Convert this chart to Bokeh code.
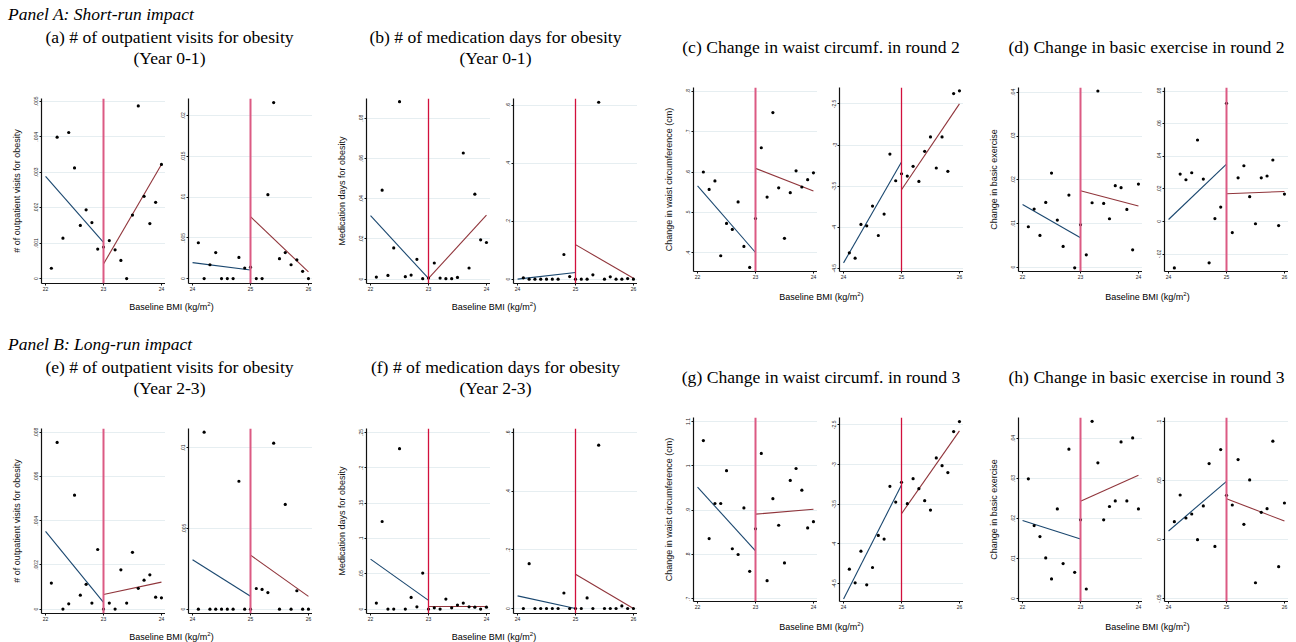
from bokeh.plotting import figure
from bokeh.layouts import row, column
from bokeh.models import Div, Spacer, Span, FixedTicker, Range1d
from bokeh.embed import file_html
from bokeh.resources import INLINE

# ---------------- data ----------------
X_LEFT = [22.1, 22.2, 22.3, 22.4, 22.5, 22.6, 22.7, 22.8, 22.9, 23.0,
          23.1, 23.2, 23.3, 23.4, 23.5, 23.6, 23.7, 23.8, 23.9, 24.0]
X_RIGHT = [24.1, 24.2, 24.3, 24.4, 24.5, 24.6, 24.7, 24.8, 24.9, 25.0,
           25.1, 25.2, 25.3, 25.4, 25.5, 25.6, 25.7, 25.8, 25.9, 26.0]
CUT_LEFT = 23
CUT_RIGHT = 25
FIT_X_LEFT_BELOW = [22, 23]
FIT_X_LEFT_ABOVE = [23, 24]
FIT_X_RIGHT_BELOW = [24, 25]
FIT_X_RIGHT_ABOVE = [25, 26]
X_TICKS_LEFT = [22, 23, 24]
X_TICKS_RIGHT = [24, 25, 26]
X_TICK_LABELS_LEFT = ["22", "23", "24"]
X_TICK_LABELS_RIGHT = ["24", "25", "26"]

# (a) outpatient visits, year 0-1
A_L_Y = [0.00029, 0.00399, 0.00114, 0.00412, 0.00312, 0.00150, 0.00194, 0.00158, 0.00083, 0.00089,
         0.00107, 0.00081, 0.00051, 0.0, 0.00179, 0.00487, 0.00232, 0.00155, 0.00215, 0.00322]
A_R_Y = [0.0044, 0.0, 0.0017, 0.0032, 0.0, 0.0, 0.0, 0.0026, 0.0013, 0.0014,
         0.0, 0.0, 0.0103, 0.0216, 0.00245, 0.0032, 0.0017, 0.0023, 0.0009, 0.0]
A_L_FIT_BELOW = [0.00288, 0.00102]
A_L_FIT_ABOVE = [0.00041, 0.00322]
A_R_FIT_BELOW = [0.00196, 0.00106]
A_R_FIT_ABOVE = [0.0076, 0.00082]
A_L_TICKS = [0, 0.001, 0.002, 0.003, 0.004, 0.005]
A_L_TICK_LABELS = ["0", ".001", ".002", ".003", ".004", ".005"]
A_R_TICKS = [0, 0.005, 0.01, 0.015, 0.02]
A_R_TICK_LABELS = ["0", ".005", ".01", ".015", ".02"]

# (b) medication days, year 0-1
B_L_Y = [0.0010, 0.0442, 0.0018, 0.0155, 0.0882, 0.0012, 0.0020, 0.0098, 0.0002, 0.0005,
         0.0080, 0.0005, 0.0002, 0.0002, 0.0008, 0.0627, 0.0055, 0.0422, 0.0195, 0.0182]
B_R_Y = [0.0046, 0.0, 0.0, 0.0, 0.0, 0.0, 0.0, 0.085, 0.009, 0.0,
         0.0, 0.0, 0.015, 0.61, 0.0, 0.008, 0.0, 0.0, 0.002, 0.0]
B_L_FIT_BELOW = [0.0315, 0.0003]
B_L_FIT_ABOVE = [0.0003, 0.0318]
B_R_FIT_BELOW = [0.0, 0.023]
B_R_FIT_ABOVE = [0.119, 0.003]
B_L_TICKS = [0, 0.02, 0.04, 0.06, 0.08]
B_L_TICK_LABELS = ["0", ".02", ".04", ".06", ".08"]
B_R_TICKS = [0, 0.2, 0.4, 0.6]
B_R_TICK_LABELS = ["0", ".2", ".4", ".6"]

# (c) waist circumference, round 2
C_L_Y = [0.600, 0.557, 0.578, 0.393, 0.473, 0.458, 0.526, 0.416, 0.364, 0.485,
         0.660, 0.538, 0.747, 0.561, 0.436, 0.549, 0.603, 0.563, 0.581, 0.598]
C_R_Y = [-4.313, -4.378, -3.967, -3.984, -3.744, -4.102, -3.841, -3.110, -3.435, -3.350,
         -3.378, -3.260, -3.443, -3.077, -2.902, -3.280, -2.902, -3.321, -2.374, -2.341]
C_L_FIT_BELOW = [0.566, 0.401]
C_L_FIT_ABOVE = [0.609, 0.553]
C_R_FIT_BELOW = [-4.435, -3.207]
C_R_FIT_ABOVE = [-3.545, -2.50]
C_L_TICKS = [0.4, 0.5, 0.6, 0.7, 0.8]
C_L_TICK_LABELS = [".4", ".5", ".6", ".7", ".8"]
C_R_TICKS = [-4.5, -4, -3.5, -3, -2.5]
C_R_TICK_LABELS = ["-4.5", "-4", "-3.5", "-3", "-2.5"]

# (d) basic exercise, round 2
D_L_Y = [0.00924, 0.01328, 0.00725, 0.01481, 0.02153, 0.01076, 0.00473, 0.01649, -0.00015, 0.0097,
         0.00282, 0.01473, 0.0403, 0.01458, 0.01107, 0.01863, 0.01817, 0.01321, 0.00397, 0.01901]
D_R_Y = [-0.0285, 0.0291, 0.0256, 0.0299, 0.0500, 0.0260, -0.0254, 0.0018, 0.0088, 0.0725,
         -0.0068, 0.0268, 0.0342, 0.0152, -0.0014, 0.0268, 0.0279, 0.0377, -0.0025, 0.0168]
D_L_FIT_BELOW = [0.01435, 0.00672]
D_L_FIT_ABOVE = [0.01748, 0.01397]
D_R_FIT_BELOW = [0.0012, 0.0352]
D_R_FIT_ABOVE = [0.0170, 0.0184]
D_L_TICKS = [0, 0.01, 0.02, 0.03, 0.04]
D_L_TICK_LABELS = ["0", ".01", ".02", ".03", ".04"]
D_R_TICKS = [-0.02, 0, 0.02, 0.04, 0.06, 0.08]
D_R_TICK_LABELS = ["-.02", "0", ".02", ".04", ".06", ".08"]

# (e) outpatient visits, year 2-3
E_L_Y = [0.00118, 0.00755, 0.0, 0.00024, 0.00516, 0.00063, 0.00112, 0.00027, 0.0027, 0.0,
         0.00027, 0.0, 0.00178, 0.00027, 0.00257, 0.00094, 0.00131, 0.00155, 0.00054, 0.00051]
E_R_Y = [0.0, 0.01097, 0.0, 0.0, 0.0, 0.0, 0.0, 0.00793, 0.0, 0.0,
         0.00128, 0.00122, 0.00103, 0.01029, 0.0, 0.00649, 0.0, 0.00114, 0.0, 0.0]
E_L_FIT_BELOW = [0.00352, 0.0003]
E_L_FIT_ABOVE = [0.00066, 0.00122]
E_R_FIT_BELOW = [0.00306, 0.0008]
E_R_FIT_ABOVE = [0.00335, 0.00079]
E_L_TICKS = [0, 0.002, 0.004, 0.006, 0.008]
E_L_TICK_LABELS = ["0", ".002", ".004", ".006", ".008"]
E_R_TICKS = [0, 0.005, 0.01]
E_R_TICK_LABELS = ["0", ".005", ".01"]

# (f) medication days, year 2-3
F_L_Y = [0.0085, 0.124, 0.0, 0.0, 0.227, 0.0, 0.0165, 0.0033, 0.051, 0.0,
         0.0019, 0.0, 0.0142, 0.0019, 0.0057, 0.0085, 0.0033, 0.0028, 0.0, 0.0028]
F_R_Y = [0.0, 0.153, 0.0, 0.0, 0.0, 0.0, 0.0, 0.053, 0.0, 0.0,
         0.0, 0.036, 0.0, 0.557, 0.0, 0.0, 0.0, 0.009, 0.0, 0.0]
F_L_FIT_BELOW = [0.0708, 0.0123]
F_L_FIT_ABOVE = [0.0038, 0.0038]
F_R_FIT_BELOW = [0.043, 0.0]
F_R_FIT_ABOVE = [0.117, 0.0]
F_L_TICKS = [0, 0.05, 0.1, 0.15, 0.2, 0.25]
F_L_TICK_LABELS = ["0", ".05", ".1", ".15", ".2", ".25"]
F_R_TICKS = [0, 0.2, 0.4, 0.6]
F_R_TICK_LABELS = ["0", ".2", ".4", ".6"]

# (g) waist circumference, round 3
G_L_Y = [1.057, 0.836, 0.915, 0.915, 0.989, 0.813, 0.800, 0.905, 0.762, 0.858,
         1.028, 0.741, 0.926, 0.866, 0.781, 0.967, 0.994, 0.945, 0.860, 0.874]
G_R_Y = [-4.319, -4.492, -4.092, -4.517, -4.298, -3.894, -3.940, -3.275, -3.473, -3.224,
         -3.494, -3.178, -3.304, -3.456, -3.574, -2.917, -3.014, -3.102, -2.584, -2.458]
G_L_FIT_BELOW = [0.952, 0.808]
G_L_FIT_ABOVE = [0.891, 0.902]
G_R_FIT_BELOW = [-4.694, -3.258]
G_R_FIT_ABOVE = [-3.62, -2.576]
G_L_TICKS = [0.7, 0.8, 0.9, 1.0, 1.1]
G_L_TICK_LABELS = [".7", ".8", ".9", "1", "1.1"]
G_R_TICKS = [-4.5, -4, -3.5, -3, -2.5]
G_R_TICK_LABELS = ["-4.5", "-4", "-3.5", "-3", "-2.5"]

# (h) basic exercise, round 3
H_L_Y = [0.0299, 0.01825, 0.0155, 0.01017, 0.00492, 0.0224, 0.00875, 0.0373, 0.00658, 0.01967,
         0.00242, 0.04425, 0.0339, 0.01967, 0.0230, 0.0244, 0.0391, 0.0244, 0.0401, 0.0224]
H_R_Y = [0.0153, 0.0379, 0.0184, 0.0218, 0.0, 0.0286, 0.0645, -0.0057, 0.0764, 0.0376,
         0.0294, 0.0679, 0.0130, 0.0507, -0.0365, 0.0232, 0.0263, 0.0835, -0.0229, 0.0311]
H_L_FIT_BELOW = [0.0195, 0.0149]
H_L_FIT_ABOVE = [0.0243, 0.0308]
H_R_FIT_BELOW = [0.0074, 0.0495]
H_R_FIT_ABOVE = [0.0348, 0.0158]
H_L_TICKS = [0, 0.01, 0.02, 0.03, 0.04]
H_L_TICK_LABELS = ["0", ".01", ".02", ".03", ".04"]
H_R_TICKS = [-0.05, 0, 0.05, 0.1]
H_R_TICK_LABELS = ["-.05", "0", ".05", ".1"]

TITLES = {
    "a": "(a) # of outpatient visits for obesity<br>(Year 0-1)",
    "b": "(b) # of medication days for obesity<br>(Year 0-1)",
    "c": "(c) Change in waist circumf. in round 2",
    "d": "(d) Change in basic exercise in round 2",
    "e": "(e) # of outpatient visits for obesity<br>(Year 2-3)",
    "f": "(f) # of medication days for obesity<br>(Year 2-3)",
    "g": "(g) Change in waist circumf. in round 3",
    "h": "(h) Change in basic exercise in round 3",
}
YLABELS = {
    "a": "# of outpatient visits for obesity",
    "b": "Medication days for obesity",
    "c": "Change in waist circumference (cm)",
    "d": "Change in basic exercise",
    "e": "# of outpatient visits for obesity",
    "f": "Medication days for obesity",
    "g": "Change in waist circumference (cm)",
    "h": "Change in basic exercise",
}
XLABEL = "Baseline BMI (kg/m<sup style='font-size:6px;line-height:0'>2</sup>)"
HEADER_A = "Panel A: Short-run impact"
HEADER_B = "Panel B: Long-run impact"

# ---------------- styling ----------------
NAVY = "#1a476f"
MAROON = "#90353b"
GRID = "#e6eef1"
PINK = ("#dc5a83", 2.0)
RED = ("#d2103c", 1.3)
SERIF = "Liberation Serif"
SANS = "Liberation Sans"

XR_LEFT = (21.93, 24.07)
XR_RIGHT = (23.93, 26.07)

YR = {
    "aL": (-0.00014, 0.00508), "aR": (-0.0006, 0.0221),
    "bL": (-0.0022, 0.0898), "bR": (-0.015, 0.623),
    "cL": (0.354, 0.809), "cR": (-4.54, -2.30),
    "dL": (-0.001, 0.0411), "dR": (-0.0307, 0.0822),
    "eL": (-0.0002, 0.00818), "eR": (-0.00027, 0.0112),
    "fL": (-0.0062, 0.2556), "fR": (-0.017, 0.614),
    "gL": (0.694, 1.109), "gR": (-4.727, -2.407),
    "hL": (-0.0007, 0.0452), "hR": (-0.0524, 0.1036),
}
VSTYLE = {
    "aL": PINK, "aR": PINK, "bL": RED, "bR": RED, "cL": PINK, "cR": RED, "dL": PINK, "dR": PINK,
    "eL": PINK, "eR": PINK, "fL": RED, "fR": RED, "gL": PINK, "gR": RED, "hL": PINK, "hR": PINK,
}

PANELS = {
    "a": (A_L_Y, A_R_Y, A_L_FIT_BELOW, A_L_FIT_ABOVE, A_R_FIT_BELOW, A_R_FIT_ABOVE,
          A_L_TICKS, A_L_TICK_LABELS, A_R_TICKS, A_R_TICK_LABELS),
    "b": (B_L_Y, B_R_Y, B_L_FIT_BELOW, B_L_FIT_ABOVE, B_R_FIT_BELOW, B_R_FIT_ABOVE,
          B_L_TICKS, B_L_TICK_LABELS, B_R_TICKS, B_R_TICK_LABELS),
    "c": (C_L_Y, C_R_Y, C_L_FIT_BELOW, C_L_FIT_ABOVE, C_R_FIT_BELOW, C_R_FIT_ABOVE,
          C_L_TICKS, C_L_TICK_LABELS, C_R_TICKS, C_R_TICK_LABELS),
    "d": (D_L_Y, D_R_Y, D_L_FIT_BELOW, D_L_FIT_ABOVE, D_R_FIT_BELOW, D_R_FIT_ABOVE,
          D_L_TICKS, D_L_TICK_LABELS, D_R_TICKS, D_R_TICK_LABELS),
    "e": (E_L_Y, E_R_Y, E_L_FIT_BELOW, E_L_FIT_ABOVE, E_R_FIT_BELOW, E_R_FIT_ABOVE,
          E_L_TICKS, E_L_TICK_LABELS, E_R_TICKS, E_R_TICK_LABELS),
    "f": (F_L_Y, F_R_Y, F_L_FIT_BELOW, F_L_FIT_ABOVE, F_R_FIT_BELOW, F_R_FIT_ABOVE,
          F_L_TICKS, F_L_TICK_LABELS, F_R_TICKS, F_R_TICK_LABELS),
    "g": (G_L_Y, G_R_Y, G_L_FIT_BELOW, G_L_FIT_ABOVE, G_R_FIT_BELOW, G_R_FIT_ABOVE,
          G_L_TICKS, G_L_TICK_LABELS, G_R_TICKS, G_R_TICK_LABELS),
    "h": (H_L_Y, H_R_Y, H_L_FIT_BELOW, H_L_FIT_ABOVE, H_R_FIT_BELOW, H_R_FIT_ABOVE,
          H_L_TICKS, H_L_TICK_LABELS, H_R_TICKS, H_R_TICK_LABELS),
}

FRAME_W = 124
# per group column geometry: (left border of left fig, left border of right fig,
#  title spacer, title width, xlabel spacer, xlabel width)
GEOM = {
    "a": (33, 23, 19, 285, 23, 281),
    "b": (54, 23, 42, 283, 39, 286),
    "c": (56, 22, 42, 284, 43, 283),
    "d": (55, 22, 42, 283, 44, 281),
}
GEOM["e"], GEOM["f"], GEOM["g"], GEOM["h"] = GEOM["a"], GEOM["b"], GEOM["c"], GEOM["d"]


def text_div(html, w, h, family, size, lh, italic=False, align="center"):
    style = (f"display:block;width:{w}px;font-family:'{family}';font-size:{size}px;line-height:{lh}px;"
             f"text-align:{align};white-space:nowrap;color:#000;margin:0;padding:0;"
             f"font-style:{'italic' if italic else 'normal'};")
    return Div(text=f'<div style="{style}">{html}</div>', width=w, height=h,
               margin=(0, 0, 0, 0), styles={"overflow": "visible"})


def make_fig(key, xs, ys, fit_x_b, fit_b, fit_x_a, fit_a, cut, xr, xt, xtl, yt, ytl,
             ylabel, bl, bt, bb, fh):
    p = figure(frame_width=FRAME_W, frame_height=fh,
               x_range=Range1d(*xr), y_range=Range1d(*YR[key]),
               output_backend="svg", toolbar_location=None,
               min_border_left=bl, min_border_right=0, min_border_top=bt, min_border_bottom=bb,
               margin=(0, 0, 0, 0))
    p.outline_line_color = None
    p.background_fill_color = "white"
    p.border_fill_color = "white"
    p.xgrid.grid_line_color = None
    p.ygrid.grid_line_color = GRID
    p.ygrid.grid_line_width = 1

    p.xaxis.ticker = FixedTicker(ticks=xt)
    p.xaxis.major_label_overrides = {t: l for t, l in zip(xt, xtl)}
    p.yaxis.ticker = FixedTicker(ticks=yt)
    p.yaxis.major_label_overrides = {t: l for t, l in zip(yt, ytl)}
    for ax in (p.xaxis[0], p.yaxis[0]):
        ax.axis_line_color = "#111111"
        ax.axis_line_width = 1.2
        ax.major_tick_line_color = "#111111"
        ax.major_tick_out = 2
        ax.major_tick_in = 0
        ax.minor_tick_line_color = None
        ax.major_label_text_font = SANS
        ax.major_label_text_font_size = "5px"
        ax.major_label_text_color = "#222222"
        ax.major_label_standoff = 1
    p.yaxis.major_label_orientation = "vertical"
    if ylabel:
        p.yaxis.axis_label = ylabel
        p.yaxis.axis_label_text_font = SANS
        p.yaxis.axis_label_text_font_size = "9px"
        p.yaxis.axis_label_text_font_style = "normal"
        p.yaxis.axis_label_text_color = "#111111"
        p.yaxis.axis_label_standoff = 10

    p.line(fit_x_b, fit_b, line_color=NAVY, line_width=1.1)
    p.line(fit_x_a, fit_a, line_color=MAROON, line_width=1.1)
    p.scatter(xs, ys, size=3.2, fill_color="black", line_color=None)
    col, w = VSTYLE[key]
    p.add_layout(Span(location=cut, dimension="height", line_color=col, line_width=w))
    return p


def make_group(k):
    (yl, yr, flb, fla, frb, fra, ylt, yltl, yrt, yrtl) = PANELS[k]
    bl_l, bl_r, ts, tw, xs_, xw = GEOM[k]
    two_line = "<br>" in TITLES[k]
    first_row = k in "abcd"
    if two_line:
        bt, fh, bb = 29, 185, 15
        title = text_div(TITLES[k], tw, 42, SERIF, 17.6, 21)
    else:
        bt, fh, bb = 18, 184, 17
        title = text_div(TITLES[k], tw, 42, SERIF, 17.6, 40.7)
    figL = make_fig(k + "L", X_LEFT, yl, FIT_X_LEFT_BELOW, flb, FIT_X_LEFT_ABOVE, fla, CUT_LEFT,
                    XR_LEFT, X_TICKS_LEFT, X_TICK_LABELS_LEFT, ylt, yltl, YLABELS[k],
                    bl_l, bt, bb, fh)
    figR = make_fig(k + "R", X_RIGHT, yr, FIT_X_RIGHT_BELOW, frb, FIT_X_RIGHT_ABOVE, fra, CUT_RIGHT,
                    XR_RIGHT, X_TICKS_RIGHT, X_TICK_LABELS_RIGHT, yrt, yrtl, None,
                    bl_r, bt, bb, fh)
    xh = 12 if (first_row or not two_line) else 6
    xlab = text_div(XLABEL, xw, xh, SANS, 9, 12)
    return column(
        row(Spacer(width=ts, height=42, margin=(0, 0, 0, 0)), title, spacing=0),
        row(figL, figR, spacing=0),
        row(Spacer(width=xs_, height=xh, margin=(0, 0, 0, 0)), xlab, spacing=0),
        spacing=0,
    )


header_a = text_div(HEADER_A, 1280, 19, SERIF, 17.5, 13.6, italic=True, align="left")
header_b = text_div(HEADER_B, 1280, 19, SERIF, 17.5, 13.6, italic=True, align="left")

content = column(
    header_a,
    row(*[make_group(k) for k in "abcd"], spacing=0),
    Spacer(width=1280, height=28, margin=(0, 0, 0, 0)),
    header_b,
    row(*[make_group(k) for k in "efgh"], spacing=0),
    spacing=0,
)
# page margin of 8px on the top and left
layout = column(
    Spacer(width=1288, height=8, margin=(0, 0, 0, 0)),
    row(Spacer(width=8, height=626, margin=(0, 0, 0, 0)), content, spacing=0),
    spacing=0,
)

open("out.html", "w").write(file_html(layout, INLINE, title="RD plots"))
